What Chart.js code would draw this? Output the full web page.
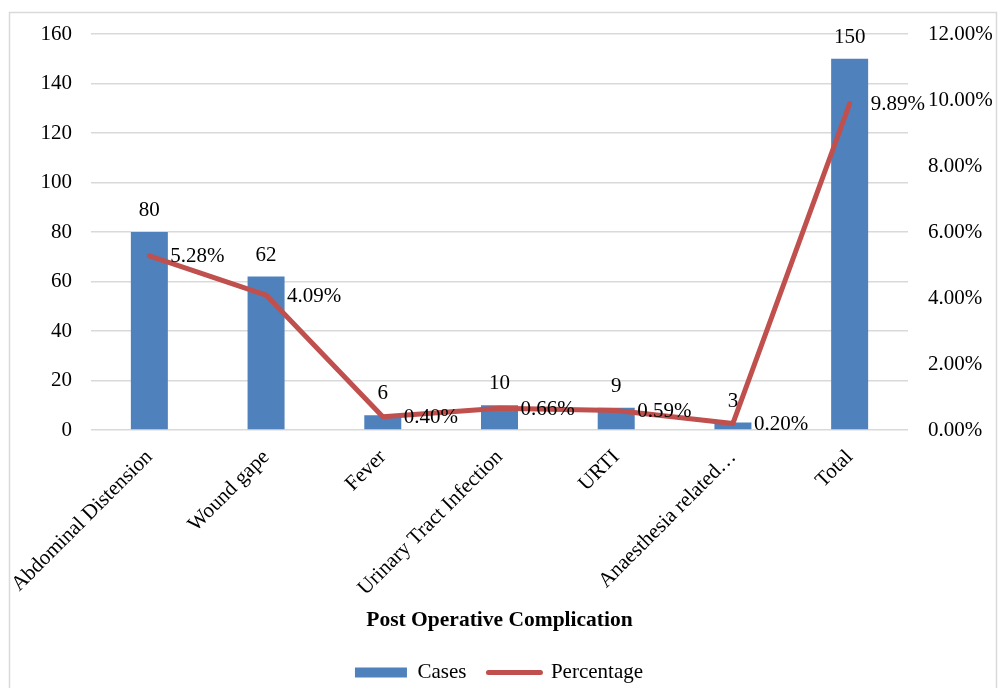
<!DOCTYPE html>
<html>
<head>
<meta charset="utf-8">
<title>Post Operative Complication</title>
<script src="https://cdn.jsdelivr.net/npm/chart.js@4.4.1/dist/chart.umd.min.js"></script>
<style>
  html, body { margin: 0; padding: 0; background: #fff; overflow: hidden; }
  #wrap { position: relative; width: 998px; height: 700px; }
</style>
</head>
<body>
<div id="wrap"><canvas id="complications" width="998" height="700"></canvas></div>
<script>
  // Post operative complication counts and percentages
  const categories = [
    'Abdominal Distension',
    'Wound gape',
    'Fever',
    'Urinary Tract Infection',
    'URTI',
    'Anaesthesia related…',
    'Total'
  ];
  const cases = [80, 62, 6, 10, 9, 3, 150];
  const percentage = [5.28, 4.09, 0.40, 0.66, 0.59, 0.20, 9.89];

  const BLUE = '#4F81BD';
  const RED = '#C0504D';
  const GRID = '#D9D9D9';
  const FONT = "'Liberation Serif', 'Times New Roman', serif";

  Chart.defaults.font.family = FONT;
  Chart.defaults.font.size = 21;
  Chart.defaults.color = '#000';

  // light grey outer frame
  const framePlugin = {
    id: 'frame',
    beforeDraw(chart) {
      const ctx = chart.ctx;
      ctx.save();
      ctx.fillStyle = '#fff';
      ctx.fillRect(0, 0, chart.width, chart.height);
      ctx.strokeStyle = GRID;
      ctx.lineWidth = 1.5;
      ctx.strokeRect(9.5, 12.5, 987, 720);
      ctx.restore();
    }
  };

  // value labels above bars and beside line points
  const valueLabels = {
    id: 'valueLabels',
    afterDatasetsDraw(chart) {
      const ctx = chart.ctx;
      ctx.save();
      ctx.font = '21px ' + FONT;
      ctx.fillStyle = '#000';

      const bars = chart.getDatasetMeta(0);
      ctx.textAlign = 'center';
      ctx.textBaseline = 'alphabetic';
      bars.data.forEach((el, i) => {
        ctx.fillText(String(cases[i]), el.x, el.y - 16);
      });

      const line = chart.getDatasetMeta(1);
      ctx.textAlign = 'left';
      ctx.textBaseline = 'middle';
      line.data.forEach((el, i) => {
        ctx.fillText(percentage[i].toFixed(2) + '%', el.x + 21, el.y + 1);
      });
      ctx.restore();
    }
  };

  new Chart(document.getElementById('complications'), {
    data: {
      labels: categories,
      datasets: [
        {
          type: 'bar',
          label: 'Cases',
          data: cases,
          yAxisID: 'y',
          backgroundColor: BLUE,
          borderWidth: 0,
          categoryPercentage: 1,
          barPercentage: 0.317,
          order: 2
        },
        {
          type: 'line',
          label: 'Percentage',
          data: percentage,
          yAxisID: 'y1',
          borderColor: RED,
          backgroundColor: RED,
          borderWidth: 5,
          borderJoinStyle: 'round',
          borderCapStyle: 'round',
          pointRadius: 0,
          tension: 0,
          order: 1
        }
      ]
    },
    options: {
      responsive: false,
      animation: false,
      layout: { padding: { top: 34, left: 0, right: 0, bottom: 7 } },
      plugins: {
        tooltip: { enabled: false },
        legend: {
          position: 'bottom',
          labels: {
            usePointStyle: true,
            pointStyleWidth: 52,
            boxHeight: 10,
            padding: 22,
            generateLabels() {
              return [
                { text: 'Cases', fillStyle: BLUE, strokeStyle: BLUE, lineWidth: 0,
                  pointStyle: 'rect', datasetIndex: 0, hidden: false, fontColor: '#000' },
                { text: 'Percentage', fillStyle: RED, strokeStyle: RED, lineWidth: 5,
                  lineCap: 'round', pointStyle: 'line', datasetIndex: 1, hidden: false, fontColor: '#000' }
              ];
            }
          }
        }
      },
      scales: {
        x: {
          grid: { display: false },
          border: { display: false },
          ticks: { maxRotation: 45, minRotation: 45, padding: 7, autoSkip: false },
          title: {
            display: true,
            text: 'Post Operative Complication',
            font: { weight: 'bold', size: 21.5 },
            padding: { top: 0, bottom: 7 }
          },
          afterFit(scale) { scale.height = 210; }
        },
        y: {
          position: 'left',
          min: 0,
          max: 160,
          ticks: { stepSize: 20, padding: 19 },
          grid: { color: GRID, lineWidth: 1.5, drawTicks: false },
          border: { display: false },
          afterFit(scale) { scale.width = 91; }
        },
        y1: {
          position: 'right',
          min: 0,
          max: 12,
          ticks: {
            stepSize: 2,
            padding: 20,
            callback: (v) => Number(v).toFixed(2) + '%'
          },
          grid: { display: false, drawTicks: false },
          border: { display: false },
          afterFit(scale) { scale.width = 90; }
        }
      }
    },
    plugins: [framePlugin, valueLabels]
  });
</script>
</body>
</html>
